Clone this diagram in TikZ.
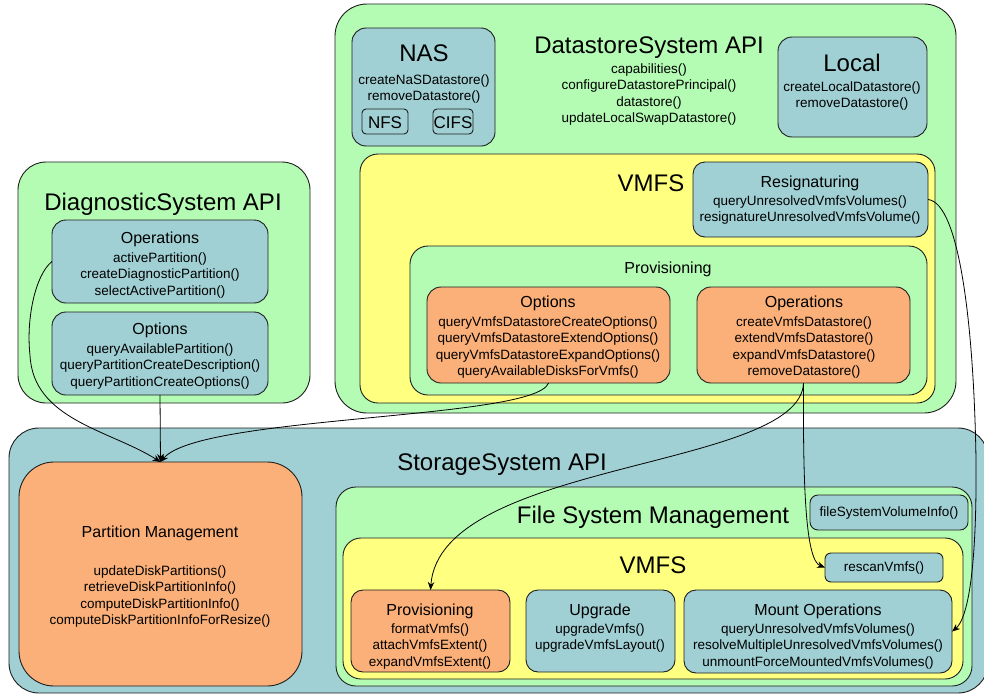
\documentclass[tikz,border=0pt]{standalone}
\usepackage{fontspec}
\setmainfont{Liberation Sans}
\usetikzlibrary{arrows.meta}
\definecolor{cgreen}{RGB}{180,251,180}
\definecolor{cblue}{RGB}{160,208,212}
\definecolor{cyellow}{RGB}{255,255,128}
\definecolor{corange}{RGB}{250,176,120}
\definecolor{cline}{RGB}{30,30,30}
\tikzset{
  bx/.style={draw=cline, line width=0.9pt, inner sep=0pt, outer sep=0pt, anchor=north west, rounded corners=#1},
  big/.style={font=\fontsize{24}{28}\selectfont, inner sep=0pt, text height=17.5pt, text depth=0pt},
  mid/.style={font=\fontsize{16}{19}\selectfont, inner sep=0pt, text height=11.7pt, text depth=0pt},
  nfs/.style={font=\fontsize{17}{20}\selectfont, inner sep=0pt, text height=12.4pt, text depth=0pt},
  sml/.style={font=\fontsize{13.5}{16.6}\selectfont, inner sep=0pt, align=center, anchor=north},
  one/.style={font=\fontsize{13.5}{16.6}\selectfont, inner sep=0pt, text height=9.8pt, text depth=0pt},
  con/.style={draw=black, line width=0.8pt, -{Stealth[length=8pt,width=6.5pt]}},
}
\newcommand\mkbox[7]{\node[bx=#2, fill=#3, minimum width={#6-#4}, minimum height={#7-#5}] (#1) at (#4,#5) {};}
\begin{document}
\begin{tikzpicture}[x=1pt,y=-1pt]
\useasboundingbox[fill=white] (0,0) rectangle (984,696);
\begin{scope}
\clip (0,0) rectangle (984,696);
% ---------- DatastoreSystem API ----------
\mkbox{ds}{32pt}{cgreen}{335}{4}{956}{413}
\mkbox{nas}{14pt}{cblue}{352}{28}{495}{146}
\mkbox{nfsb}{4pt}{cblue}{362}{109}{408}{134}
\mkbox{cifsb}{4pt}{cblue}{433}{109}{473}{134}
\mkbox{local}{14pt}{cblue}{778}{37}{927}{137}
\mkbox{vmfsT}{18pt}{cyellow}{360}{154}{935}{403}
\mkbox{resig}{12pt}{cblue}{693}{162}{928}{237}
\mkbox{provT}{18pt}{cgreen}{410}{246}{927}{395}
\mkbox{opts}{14pt}{corange}{427}{287}{670}{383}
\mkbox{opsT}{14pt}{corange}{697}{287}{910}{383}
\node[big] (dsTitle) at (649,45) {DatastoreSystem API};
\node[sml] (dsM) at (649,63.2) {capabilities()\\configureDatastorePrincipal()\\datastore()\\updateLocalSwapDatastore()};
\node[big] (nasTitle) at (424,53) {NAS};
\node[sml] (nasM) at (424,74.2) {createNaSDatastore()\\removeDatastore()};
\node[nfs] (nfsT) at (385,122) {NFS};
\node[nfs] (cifsT) at (453,122) {CIFS};
\node[big] (localTitle) at (852,63) {Local};
\node[sml] (localM) at (852,81.2) {createLocalDatastore()\\removeDatastore()};
\node[big] (vmfsTTitle) at (651,183) {VMFS};
\node[mid] (resigTitle) at (810,182) {Resignaturing};
\node[sml] (resigM) at (810,195.2) {queryUnresolvedVmfsVolumes()\\resignatureUnresolvedVmfsVolume()};
\node[mid] (provTTitle) at (668,268) {Provisioning};
\node[mid] (optsTitle) at (548,302) {Options};
\node[sml] (optsM) at (548,316.2) {queryVmfsDatastoreCreateOptions()\\queryVmfsDatastoreExtendOptions()\\queryVmfsDatastoreExpandOptions()\\queryAvailableDisksForVmfs()};
\node[mid] (opsTTitle) at (804,302) {Operations};
\node[sml] (opsTM) at (804,316.2) {createVmfsDatastore()\\extendVmfsDatastore()\\expandVmfsDatastore()\\removeDatastore()};
% ---------- DiagnosticSystem API ----------
\mkbox{diag}{28pt}{cgreen}{18}{162}{310}{403}
\mkbox{dops}{14pt}{cblue}{52}{220}{268}{303}
\mkbox{dopt}{14pt}{cblue}{52}{312}{268}{395}
\node[big] (diagTitle) at (163,202) {DiagnosticSystem API};
\node[mid] (dopsTitle) at (160,238) {Operations};
\node[sml] (dopsM) at (160,252.2) {activePartition()\\createDiagnosticPartition()\\selectActivePartition()};
\node[mid] (doptTitle) at (160,329) {Options};
\node[sml] (doptM) at (160,343.2) {queryAvailablePartition()\\queryPartitionCreateDescription()\\queryPartitionCreateOptions()};
% ---------- StorageSystem API ----------
\mkbox{st}{30pt}{cblue}{9}{428}{988}{693}
\mkbox{pm}{35pt}{corange}{19}{462}{302}{686}
\mkbox{fsm}{20pt}{cgreen}{336}{487}{972}{686}
\mkbox{fsvi}{8pt}{cblue}{810}{495}{968}{530}
\mkbox{vmfsB}{18pt}{cyellow}{343}{538}{963}{679}
\mkbox{rescan}{6pt}{cblue}{825}{553}{943}{582}
\mkbox{provB}{12pt}{corange}{351}{590}{510}{672}
\mkbox{upg}{12pt}{cblue}{526}{590}{675}{672}
\mkbox{mount}{12pt}{cblue}{684}{590}{952}{673}
\node[big] (stTitle) at (502,462) {StorageSystem API};
\node[mid] (pmTitle) at (160,532) {Partition Management};
\node[sml] (pmM) at (160,565.2) {updateDiskPartitions()\\retrieveDiskPartitionInfo()\\computeDiskPartitionInfo()\\computeDiskPartitionInfoForResize()};
\node[big] (fsmTitle) at (653,515) {File System Management};
\node[one] (fsviT) at (889,512) {fileSystemVolumeInfo()};
\node[big] (vmfsBTitle) at (653,565) {VMFS};
\node[one] (rescanT) at (884,567) {rescanVmfs()};
\node[mid] (provBTitle) at (430,610) {Provisioning};
\node[sml] (provBM) at (430,623.2) {formatVmfs()\\attachVmfsExtent()\\expandVmfsExtent()};
\node[mid] (upgTitle) at (600,610) {Upgrade};
\node[sml] (upgM) at (600,623.2) {upgradeVmfs()\\upgradeVmfsLayout()};
\node[mid] (mountTitle) at (818,610) {Mount Operations};
\node[sml] (mountM) at (818,623.2) {queryUnresolvedVmfsVolumes()\\resolveMultipleUnresolvedVmfsVolumes()\\unmountForceMountedVmfsVolumes()};
% ---------- connectors ----------
\draw[con] (dops.west) .. controls (35,275) and (26,320) .. (30,355) .. controls (33,420) and (110,430) .. (pm.north);
\draw[con] (dopt.south) -- (pm.north);
\draw[con] (opts.south) .. controls (535,420) and (200,415) .. (pm.north);
\draw[con] (opsT.south) .. controls (800,470) and (440,460) .. (provB.north);
\draw[con] (opsT.south) .. controls (803,480) and (805,560) .. (rescan.west);
\draw[con] (resig.east) .. controls (960,203) and (974,330) .. (976,460) .. controls (977,580) and (966,620) .. (mount.east);
\end{scope}
\end{tikzpicture}
\end{document}
